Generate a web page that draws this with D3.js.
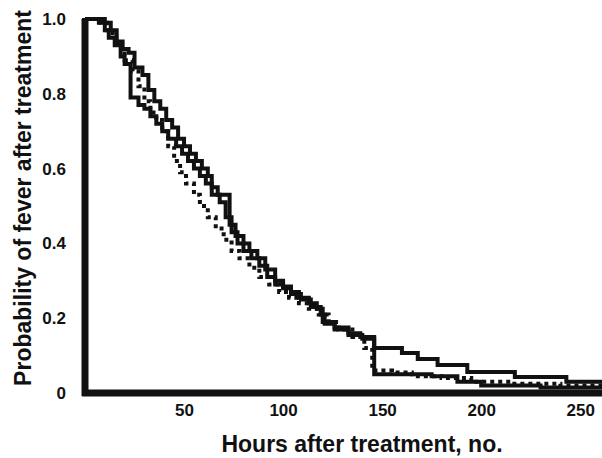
<!DOCTYPE html>
<html>
<head>
<meta charset="utf-8">
<script src="https://cdn.jsdelivr.net/npm/d3@7"></script>
<style>
  body { margin: 0; background: #fff; }
  svg text { font-family: "Liberation Sans", Arial, sans-serif; font-weight: bold; fill: #111; }
</style>
</head>
<body>
<div id="chart"></div>
<script>
// step curves: [hours, probability]
const curveSolidA = [
  [0, 1], [10, 0.99], [13, 0.97], [16, 0.94], [19, 0.92], [22, 0.91], [25, 0.87], [29, 0.85],
  [32, 0.81], [35, 0.78], [38, 0.76], [41, 0.73], [44, 0.71], [47, 0.68], [50, 0.66], [53, 0.64],
  [56, 0.62], [59, 0.60], [62, 0.58], [64, 0.55], [67, 0.53], [73, 0.45], [76, 0.42], [80, 0.40],
  [83, 0.38], [87, 0.36], [91, 0.33], [96, 0.30], [100, 0.285], [104, 0.27], [108, 0.255],
  [113, 0.24], [117, 0.225], [120, 0.19], [126, 0.175], [133, 0.16], [139, 0.15], [146, 0.12],
  [160, 0.107], [168, 0.091], [178, 0.075], [193, 0.056], [217, 0.043], [243, 0.03], [262, 0.03]
];
const curveSolidB = [
  [0, 1], [7, 0.99], [10, 0.97], [12, 0.95], [15, 0.93], [18, 0.90], [20, 0.88], [23, 0.79],
  [27, 0.77], [30, 0.76], [33, 0.74], [36, 0.72], [39, 0.70], [42, 0.68], [46, 0.66], [49, 0.64],
  [52, 0.62], [55, 0.60], [58, 0.58], [61, 0.56], [64, 0.53], [68, 0.51], [71, 0.47], [74, 0.43],
  [77, 0.40], [80, 0.38], [84, 0.36], [88, 0.34], [92, 0.31], [96, 0.29], [100, 0.28], [104, 0.265],
  [109, 0.25], [114, 0.23], [119, 0.21], [121, 0.185], [126, 0.17], [133, 0.155], [140, 0.145],
  [146, 0.05], [175, 0.045], [188, 0.03], [200, 0.02], [230, 0.015], [262, 0.015]
];
const curveDotted = [
  [0, 1], [8, 0.99], [11, 0.97], [14, 0.95], [17, 0.92], [20, 0.89], [24, 0.86], [27, 0.82],
  [30, 0.78], [33, 0.75], [36, 0.73], [39, 0.70], [42, 0.66], [45, 0.62], [48, 0.59], [51, 0.56],
  [55, 0.53], [58, 0.50], [62, 0.47], [66, 0.44], [70, 0.41], [74, 0.38], [78, 0.36], [83, 0.335],
  [88, 0.31], [93, 0.29], [98, 0.27], [103, 0.255], [108, 0.24], [113, 0.225], [118, 0.21],
  [123, 0.19], [128, 0.17], [135, 0.15], [141, 0.12], [145, 0.06], [155, 0.055], [165, 0.045],
  [180, 0.04], [195, 0.03], [215, 0.025], [240, 0.02], [262, 0.02]
];
const xTicks = [50, 100, 150, 200, 250];
const yTicks = [0, 0.2, 0.4, 0.6, 0.8, 1.0];

const width = 602, height = 458;
const mLeft = 85, mRight = 602, mTop = 19, mBottom = 393;

const svg = d3.select("#chart").append("svg")
  .attr("width", width)
  .attr("height", height);

const x = d3.scaleLinear().domain([0, 261]).range([mLeft, mRight]);
const y = d3.scaleLinear().domain([0, 1]).range([mBottom, mTop]);

const line = d3.line()
  .x(d => x(d[0]))
  .y(d => y(d[1]))
  .curve(d3.curveStepAfter);

svg.append("path").datum(curveDotted)
  .attr("d", line)
  .attr("fill", "none")
  .attr("stroke", "#111")
  .attr("stroke-width", 4)
  .attr("stroke-dasharray", "4,4");

svg.append("path").datum(curveSolidB)
  .attr("d", line)
  .attr("fill", "none")
  .attr("stroke", "#111")
  .attr("stroke-width", 4);

svg.append("path").datum(curveSolidA)
  .attr("d", line)
  .attr("fill", "none")
  .attr("stroke", "#111")
  .attr("stroke-width", 4);

// axes: thick lines, tiny ticks
const xAxis = svg.append("g")
  .attr("transform", `translate(0,${mBottom})`)
  .call(d3.axisBottom(x).tickValues(xTicks).tickSize(3).tickPadding(8).tickFormat(d3.format("d")));
xAxis.select(".domain").remove();
xAxis.selectAll(".tick line").attr("stroke", "#111").attr("stroke-width", 3);
xAxis.selectAll(".tick text").style("font-size", "17px");

const yAxis = svg.append("g")
  .attr("transform", `translate(${mLeft},0)`)
  .call(d3.axisLeft(y).tickValues(yTicks).tickSize(3).tickPadding(16)
    .tickFormat(d => d === 0 ? "0" : d3.format(".1f")(d)));
yAxis.select(".domain").remove();
yAxis.selectAll(".tick line").attr("stroke", "#111").attr("stroke-width", 3);
yAxis.selectAll(".tick text").style("font-size", "17px");

svg.append("line")
  .attr("x1", mLeft).attr("x2", mLeft)
  .attr("y1", y(1)).attr("y2", mBottom + 3)
  .attr("stroke", "#111").attr("stroke-width", 7);
svg.append("line")
  .attr("x1", mLeft - 3).attr("x2", mRight)
  .attr("y1", mBottom).attr("y2", mBottom)
  .attr("stroke", "#111").attr("stroke-width", 7);

svg.append("text")
  .attr("x", 362)
  .attr("y", 452)
  .attr("text-anchor", "middle")
  .style("font-size", "23px")
  .text("Hours after treatment, no.");

svg.append("text")
  .attr("transform", "translate(31,198) rotate(-90)")
  .attr("text-anchor", "middle")
  .style("font-size", "23px")
  .text("Probability of fever after treatment");
</script>
</body>
</html>
